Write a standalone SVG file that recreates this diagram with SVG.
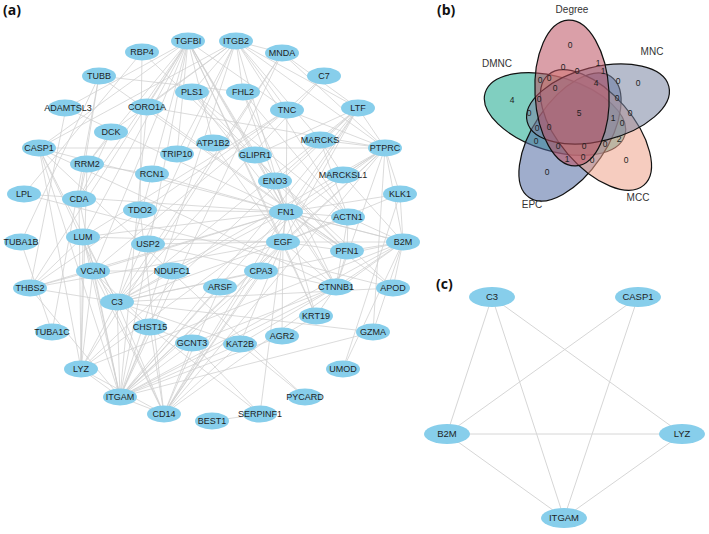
<svg xmlns="http://www.w3.org/2000/svg" width="709" height="534" viewBox="0 0 709 534">
<style>
.bg{fill:#ffffff}
.edges line{stroke:#cfcfcf;stroke-width:0.75;fill:none}
.edgesc line{stroke:#d6d6d6;stroke-width:1;fill:none}
.node ellipse{fill:#87ceeb}
.node text{font-family:"Liberation Sans",Arial,sans-serif;font-size:9px;fill:#1e1e1e;text-anchor:middle}
.nodec ellipse{fill:#87ceeb}
.nodec text{font-family:"Liberation Sans",Arial,sans-serif;font-size:9.5px;fill:#1e1e1e;text-anchor:middle}
.plabel{font-family:"Open Sans","Liberation Sans",sans-serif;font-size:14px;font-weight:bold;fill:#111}
.vset{stroke:#111;stroke-width:1.2;fill-opacity:0.55}
.vlab{font-family:"Liberation Sans",Arial,sans-serif;font-size:10px;fill:#333;text-anchor:middle}
.vnum{font-family:"Liberation Sans",Arial,sans-serif;font-size:8.5px;fill:#222;text-anchor:middle}
</style>
<rect class="bg" x="0" y="0" width="709" height="534"/>
<text class="plabel" x="3" y="15">(a)</text>
<text class="plabel" x="437" y="15">(b)</text>
<text class="plabel" x="436" y="289">(c)</text>

<g id="edges" class="edges">
<line x1="120" y1="397" x2="81" y2="369"/><line x1="120" y1="397" x2="164" y2="414"/><line x1="120" y1="397" x2="117" y2="302"/><line x1="120" y1="397" x2="93" y2="271"/><line x1="120" y1="397" x2="83" y2="237"/><line x1="120" y1="397" x2="79" y2="199"/><line x1="120" y1="397" x2="39" y2="148"/><line x1="120" y1="397" x2="30" y2="288"/><line x1="120" y1="397" x2="150" y2="327"/><line x1="120" y1="397" x2="192" y2="343"/><line x1="120" y1="397" x2="240" y2="344"/><line x1="120" y1="397" x2="220" y2="287"/><line x1="120" y1="397" x2="261" y2="271"/><line x1="120" y1="397" x2="283" y2="242"/><line x1="120" y1="397" x2="286" y2="212"/><line x1="120" y1="397" x2="403" y2="242"/><line x1="120" y1="397" x2="385" y2="148"/><line x1="120" y1="397" x2="236" y2="41"/><line x1="120" y1="397" x2="188" y2="41"/><line x1="120" y1="397" x2="336" y2="287"/><line x1="120" y1="397" x2="373" y2="332"/><line x1="120" y1="397" x2="282" y2="53"/><line x1="120" y1="397" x2="358" y2="108"/><line x1="120" y1="397" x2="147" y2="107"/><line x1="120" y1="397" x2="172" y2="271"/><line x1="120" y1="397" x2="282" y2="336"/>
<line x1="164" y1="414" x2="117" y2="302"/><line x1="164" y1="414" x2="150" y2="327"/><line x1="164" y1="414" x2="192" y2="343"/><line x1="164" y1="414" x2="240" y2="344"/><line x1="164" y1="414" x2="220" y2="287"/><line x1="164" y1="414" x2="261" y2="271"/><line x1="164" y1="414" x2="283" y2="242"/><line x1="164" y1="414" x2="286" y2="212"/><line x1="164" y1="414" x2="403" y2="242"/><line x1="164" y1="414" x2="385" y2="148"/><line x1="164" y1="414" x2="81" y2="369"/><line x1="164" y1="414" x2="140" y2="210"/><line x1="164" y1="414" x2="93" y2="271"/><line x1="164" y1="414" x2="358" y2="108"/><line x1="164" y1="414" x2="39" y2="148"/>
<line x1="117" y1="302" x2="81" y2="369"/><line x1="117" y1="302" x2="93" y2="271"/><line x1="117" y1="302" x2="83" y2="237"/><line x1="117" y1="302" x2="30" y2="288"/><line x1="117" y1="302" x2="286" y2="212"/><line x1="117" y1="302" x2="283" y2="242"/><line x1="117" y1="302" x2="403" y2="242"/><line x1="117" y1="302" x2="39" y2="148"/><line x1="117" y1="302" x2="261" y2="271"/><line x1="117" y1="302" x2="240" y2="344"/><line x1="117" y1="302" x2="385" y2="148"/><line x1="117" y1="302" x2="236" y2="41"/><line x1="117" y1="302" x2="188" y2="41"/><line x1="117" y1="302" x2="282" y2="53"/><line x1="117" y1="302" x2="393" y2="288"/><line x1="117" y1="302" x2="324" y2="76"/><line x1="117" y1="302" x2="373" y2="332"/><line x1="117" y1="302" x2="358" y2="108"/><line x1="117" y1="302" x2="260" y2="414"/>
<line x1="81" y1="369" x2="83" y2="237"/><line x1="81" y1="369" x2="79" y2="199"/><line x1="81" y1="369" x2="93" y2="271"/><line x1="81" y1="369" x2="87" y2="164"/><line x1="81" y1="369" x2="403" y2="242"/><line x1="81" y1="369" x2="385" y2="148"/><line x1="81" y1="369" x2="358" y2="108"/><line x1="81" y1="369" x2="39" y2="148"/><line x1="81" y1="369" x2="282" y2="53"/>
<line x1="403" y1="242" x2="385" y2="148"/><line x1="403" y1="242" x2="39" y2="148"/><line x1="403" y1="242" x2="283" y2="242"/><line x1="403" y1="242" x2="286" y2="212"/><line x1="403" y1="242" x2="393" y2="288"/><line x1="403" y1="242" x2="336" y2="287"/><line x1="403" y1="242" x2="373" y2="332"/><line x1="403" y1="242" x2="343" y2="369"/><line x1="403" y1="242" x2="400" y2="194"/><line x1="403" y1="242" x2="347" y2="251"/><line x1="403" y1="242" x2="348" y2="217"/><line x1="403" y1="242" x2="343" y2="175"/>
<line x1="385" y1="148" x2="236" y2="41"/><line x1="385" y1="148" x2="282" y2="53"/><line x1="385" y1="148" x2="358" y2="108"/><line x1="385" y1="148" x2="343" y2="175"/><line x1="385" y1="148" x2="400" y2="194"/><line x1="385" y1="148" x2="373" y2="332"/><line x1="385" y1="148" x2="336" y2="287"/><line x1="385" y1="148" x2="283" y2="242"/><line x1="385" y1="148" x2="286" y2="212"/><line x1="385" y1="148" x2="147" y2="107"/><line x1="385" y1="148" x2="320" y2="140"/><line x1="385" y1="148" x2="287" y2="110"/><line x1="385" y1="148" x2="39" y2="148"/>
<line x1="286" y1="212" x2="188" y2="41"/><line x1="286" y1="212" x2="236" y2="41"/><line x1="286" y1="212" x2="287" y2="110"/><line x1="286" y1="212" x2="30" y2="288"/><line x1="286" y1="212" x2="93" y2="271"/><line x1="286" y1="212" x2="83" y2="237"/><line x1="286" y1="212" x2="283" y2="242"/><line x1="286" y1="212" x2="336" y2="287"/><line x1="286" y1="212" x2="348" y2="217"/><line x1="286" y1="212" x2="347" y2="251"/><line x1="286" y1="212" x2="24" y2="194"/><line x1="286" y1="212" x2="393" y2="288"/><line x1="286" y1="212" x2="192" y2="92"/><line x1="286" y1="212" x2="243" y2="92"/><line x1="286" y1="212" x2="400" y2="194"/><line x1="286" y1="212" x2="358" y2="108"/><line x1="286" y1="212" x2="260" y2="414"/><line x1="286" y1="212" x2="316" y2="316"/><line x1="286" y1="212" x2="140" y2="210"/><line x1="286" y1="212" x2="152" y2="174"/><line x1="286" y1="212" x2="275" y2="181"/><line x1="286" y1="212" x2="255" y2="155"/>
<line x1="283" y1="242" x2="336" y2="287"/><line x1="283" y1="242" x2="316" y2="316"/><line x1="283" y1="242" x2="240" y2="344"/><line x1="283" y1="242" x2="188" y2="41"/><line x1="283" y1="242" x2="30" y2="288"/><line x1="283" y1="242" x2="358" y2="108"/><line x1="283" y1="242" x2="282" y2="336"/><line x1="283" y1="242" x2="400" y2="194"/><line x1="283" y1="242" x2="348" y2="217"/><line x1="283" y1="242" x2="347" y2="251"/><line x1="283" y1="242" x2="83" y2="237"/><line x1="283" y1="242" x2="213" y2="143"/><line x1="283" y1="242" x2="148" y2="244"/>
<line x1="236" y1="41" x2="282" y2="53"/><line x1="236" y1="41" x2="147" y2="107"/><line x1="236" y1="41" x2="192" y2="92"/><line x1="236" y1="41" x2="243" y2="92"/><line x1="236" y1="41" x2="348" y2="217"/><line x1="236" y1="41" x2="287" y2="110"/><line x1="236" y1="41" x2="358" y2="108"/><line x1="236" y1="41" x2="177" y2="154"/><line x1="236" y1="41" x2="111" y2="132"/><line x1="236" y1="41" x2="39" y2="148"/><line x1="236" y1="41" x2="320" y2="140"/>
<line x1="188" y1="41" x2="30" y2="288"/><line x1="188" y1="41" x2="93" y2="271"/><line x1="188" y1="41" x2="83" y2="237"/><line x1="188" y1="41" x2="287" y2="110"/><line x1="188" y1="41" x2="336" y2="287"/><line x1="188" y1="41" x2="316" y2="316"/><line x1="188" y1="41" x2="147" y2="107"/><line x1="188" y1="41" x2="39" y2="148"/><line x1="188" y1="41" x2="177" y2="154"/><line x1="188" y1="41" x2="213" y2="143"/><line x1="188" y1="41" x2="255" y2="155"/><line x1="188" y1="41" x2="79" y2="199"/><line x1="188" y1="41" x2="87" y2="164"/>
<line x1="336" y1="287" x2="316" y2="316"/><line x1="336" y1="287" x2="348" y2="217"/><line x1="336" y1="287" x2="347" y2="251"/><line x1="336" y1="287" x2="240" y2="344"/><line x1="336" y1="287" x2="243" y2="92"/><line x1="336" y1="287" x2="39" y2="148"/><line x1="336" y1="287" x2="148" y2="244"/><line x1="336" y1="287" x2="192" y2="343"/>
<line x1="99" y1="76" x2="21" y2="242"/><line x1="99" y1="76" x2="52" y2="332"/><line x1="21" y1="242" x2="52" y2="332"/><line x1="99" y1="76" x2="347" y2="251"/><line x1="99" y1="76" x2="243" y2="92"/><line x1="99" y1="76" x2="79" y2="199"/>
<line x1="348" y1="217" x2="347" y2="251"/><line x1="348" y1="217" x2="243" y2="92"/><line x1="348" y1="217" x2="192" y2="92"/><line x1="348" y1="217" x2="320" y2="140"/>
<line x1="347" y1="251" x2="275" y2="181"/><line x1="347" y1="251" x2="192" y2="92"/><line x1="347" y1="251" x2="147" y2="107"/>
<line x1="93" y1="271" x2="83" y2="237"/><line x1="93" y1="271" x2="30" y2="288"/><line x1="93" y1="271" x2="287" y2="110"/><line x1="93" y1="271" x2="150" y2="327"/><line x1="93" y1="271" x2="172" y2="271"/>
<line x1="83" y1="237" x2="30" y2="288"/><line x1="83" y1="237" x2="287" y2="110"/><line x1="30" y1="288" x2="287" y2="110"/>
<line x1="192" y1="343" x2="150" y2="327"/><line x1="240" y1="344" x2="305" y2="397"/><line x1="282" y1="336" x2="316" y2="316"/><line x1="343" y1="369" x2="400" y2="194"/>
<line x1="393" y1="288" x2="24" y2="194"/><line x1="393" y1="288" x2="142" y2="52"/><line x1="142" y1="52" x2="24" y2="194"/><line x1="142" y1="52" x2="140" y2="210"/>
<line x1="111" y1="132" x2="87" y2="164"/><line x1="111" y1="132" x2="79" y2="199"/><line x1="79" y1="199" x2="87" y2="164"/>
<line x1="320" y1="140" x2="343" y2="175"/><line x1="39" y1="148" x2="305" y2="397"/><line x1="324" y1="76" x2="287" y2="110"/>
<line x1="212" y1="421" x2="260" y2="414"/><line x1="260" y1="414" x2="192" y2="343"/>
<line x1="66" y1="108" x2="30" y2="288"/><line x1="66" y1="108" x2="286" y2="212"/><line x1="66" y1="108" x2="188" y2="41"/>
<line x1="152" y1="174" x2="87" y2="164"/><line x1="282" y1="53" x2="358" y2="108"/><line x1="255" y1="155" x2="358" y2="108"/><line x1="275" y1="181" x2="358" y2="108"/>
</g>

<g id="n-TGFBI" class="node"><ellipse cx="188" cy="41" rx="17" ry="8.5"/><text x="188" y="44.2">TGFBI</text></g>
<g id="n-ITGB2" class="node"><ellipse cx="236" cy="41" rx="17" ry="8.5"/><text x="236" y="44.2">ITGB2</text></g>
<g id="n-MNDA" class="node"><ellipse cx="282" cy="53" rx="17" ry="8.5"/><text x="282" y="56.2">MNDA</text></g>
<g id="n-C7" class="node"><ellipse cx="324" cy="76" rx="17" ry="8.5"/><text x="324" y="79.2">C7</text></g>
<g id="n-RBP4" class="node"><ellipse cx="142" cy="52" rx="17" ry="8.5"/><text x="142" y="55.2">RBP4</text></g>
<g id="n-TUBB" class="node"><ellipse cx="99" cy="76" rx="17" ry="8.5"/><text x="99" y="79.2">TUBB</text></g>
<g id="n-PLS1" class="node"><ellipse cx="192" cy="92" rx="17" ry="8.5"/><text x="192" y="95.2">PLS1</text></g>
<g id="n-FHL2" class="node"><ellipse cx="243" cy="92" rx="17" ry="8.5"/><text x="243" y="95.2">FHL2</text></g>
<g id="n-TNC" class="node"><ellipse cx="287" cy="110" rx="17" ry="8.5"/><text x="287" y="113.2">TNC</text></g>
<g id="n-LTF" class="node"><ellipse cx="358" cy="108" rx="17" ry="8.5"/><text x="358" y="111.2">LTF</text></g>
<g id="n-ADAMTSL3" class="node"><ellipse cx="65" cy="108" rx="17" ry="8.5"/><text x="68" y="111.2">ADAMTSL3</text></g>
<g id="n-CORO1A" class="node"><ellipse cx="147" cy="107" rx="17" ry="8.5"/><text x="147" y="110.2">CORO1A</text></g>
<g id="n-DCK" class="node"><ellipse cx="111" cy="132" rx="17" ry="8.5"/><text x="111" y="135.2">DCK</text></g>
<g id="n-MARCKS" class="node"><ellipse cx="320" cy="140" rx="17" ry="8.5"/><text x="320" y="143.2">MARCKS</text></g>
<g id="n-CASP1" class="node"><ellipse cx="39" cy="148" rx="17" ry="8.5"/><text x="39" y="151.2">CASP1</text></g>
<g id="n-ATP1B2" class="node"><ellipse cx="213" cy="143" rx="17" ry="8.5"/><text x="213" y="146.2">ATP1B2</text></g>
<g id="n-TRIP10" class="node"><ellipse cx="177" cy="154" rx="17" ry="8.5"/><text x="177" y="157.2">TRIP10</text></g>
<g id="n-GLIPR1" class="node"><ellipse cx="255" cy="155" rx="17" ry="8.5"/><text x="255" y="158.2">GLIPR1</text></g>
<g id="n-PTPRC" class="node"><ellipse cx="385" cy="148" rx="17" ry="8.5"/><text x="385" y="151.2">PTPRC</text></g>
<g id="n-RRM2" class="node"><ellipse cx="87" cy="164" rx="17" ry="8.5"/><text x="87" y="167.2">RRM2</text></g>
<g id="n-RCN1" class="node"><ellipse cx="152" cy="174" rx="17" ry="8.5"/><text x="152" y="177.2">RCN1</text></g>
<g id="n-ENO3" class="node"><ellipse cx="275" cy="181" rx="17" ry="8.5"/><text x="275" y="184.2">ENO3</text></g>
<g id="n-MARCKSL1" class="node"><ellipse cx="343" cy="175" rx="17" ry="8.5"/><text x="343" y="178.2">MARCKSL1</text></g>
<g id="n-KLK1" class="node"><ellipse cx="400" cy="194" rx="17" ry="8.5"/><text x="400" y="197.2">KLK1</text></g>
<g id="n-LPL" class="node"><ellipse cx="24" cy="194" rx="17" ry="8.5"/><text x="24" y="197.2">LPL</text></g>
<g id="n-CDA" class="node"><ellipse cx="79" cy="199" rx="17" ry="8.5"/><text x="79" y="202.2">CDA</text></g>
<g id="n-TDO2" class="node"><ellipse cx="140" cy="210" rx="17" ry="8.5"/><text x="140" y="213.2">TDO2</text></g>
<g id="n-FN1" class="node"><ellipse cx="286" cy="212" rx="17" ry="8.5"/><text x="286" y="215.2">FN1</text></g>
<g id="n-ACTN1" class="node"><ellipse cx="348" cy="217" rx="17" ry="8.5"/><text x="348" y="220.2">ACTN1</text></g>
<g id="n-LUM" class="node"><ellipse cx="83" cy="237" rx="17" ry="8.5"/><text x="83" y="240.2">LUM</text></g>
<g id="n-TUBA1B" class="node"><ellipse cx="21" cy="242" rx="17" ry="8.5"/><text x="21" y="245.2">TUBA1B</text></g>
<g id="n-USP2" class="node"><ellipse cx="148" cy="244" rx="17" ry="8.5"/><text x="148" y="247.2">USP2</text></g>
<g id="n-EGF" class="node"><ellipse cx="283" cy="242" rx="17" ry="8.5"/><text x="283" y="245.2">EGF</text></g>
<g id="n-PFN1" class="node"><ellipse cx="347" cy="251" rx="17" ry="8.5"/><text x="347" y="254.2">PFN1</text></g>
<g id="n-B2M" class="node"><ellipse cx="403" cy="242" rx="17" ry="8.5"/><text x="403" y="245.2">B2M</text></g>
<g id="n-VCAN" class="node"><ellipse cx="93" cy="271" rx="17" ry="8.5"/><text x="93" y="274.2">VCAN</text></g>
<g id="n-NDUFC1" class="node"><ellipse cx="172" cy="271" rx="17" ry="8.5"/><text x="172" y="274.2">NDUFC1</text></g>
<g id="n-CPA3" class="node"><ellipse cx="261" cy="271" rx="17" ry="8.5"/><text x="261" y="274.2">CPA3</text></g>
<g id="n-THBS2" class="node"><ellipse cx="30" cy="288" rx="17" ry="8.5"/><text x="30" y="291.2">THBS2</text></g>
<g id="n-ARSF" class="node"><ellipse cx="220" cy="287" rx="17" ry="8.5"/><text x="220" y="290.2">ARSF</text></g>
<g id="n-C3" class="node"><ellipse cx="117" cy="302" rx="17" ry="8.5"/><text x="117" y="305.2">C3</text></g>
<g id="n-CTNNB1" class="node"><ellipse cx="336" cy="287" rx="17" ry="8.5"/><text x="336" y="290.2">CTNNB1</text></g>
<g id="n-APOD" class="node"><ellipse cx="393" cy="288" rx="17" ry="8.5"/><text x="393" y="291.2">APOD</text></g>
<g id="n-CHST15" class="node"><ellipse cx="150" cy="327" rx="17" ry="8.5"/><text x="150" y="330.2">CHST15</text></g>
<g id="n-TUBA1C" class="node"><ellipse cx="52" cy="332" rx="17" ry="8.5"/><text x="52" y="335.2">TUBA1C</text></g>
<g id="n-KRT19" class="node"><ellipse cx="316" cy="316" rx="17" ry="8.5"/><text x="316" y="319.2">KRT19</text></g>
<g id="n-GCNT3" class="node"><ellipse cx="192" cy="343" rx="17" ry="8.5"/><text x="192" y="346.2">GCNT3</text></g>
<g id="n-KAT2B" class="node"><ellipse cx="240" cy="344" rx="17" ry="8.5"/><text x="240" y="347.2">KAT2B</text></g>
<g id="n-AGR2" class="node"><ellipse cx="282" cy="336" rx="17" ry="8.5"/><text x="282" y="339.2">AGR2</text></g>
<g id="n-GZMA" class="node"><ellipse cx="373" cy="332" rx="17" ry="8.5"/><text x="373" y="335.2">GZMA</text></g>
<g id="n-LYZ" class="node"><ellipse cx="81" cy="369" rx="17" ry="8.5"/><text x="81" y="372.2">LYZ</text></g>
<g id="n-UMOD" class="node"><ellipse cx="343" cy="369" rx="17" ry="8.5"/><text x="343" y="372.2">UMOD</text></g>
<g id="n-ITGAM" class="node"><ellipse cx="120" cy="397" rx="17" ry="8.5"/><text x="120" y="400.2">ITGAM</text></g>
<g id="n-PYCARD" class="node"><ellipse cx="305" cy="397" rx="17" ry="8.5"/><text x="305" y="400.2">PYCARD</text></g>
<g id="n-CD14" class="node"><ellipse cx="164" cy="414" rx="17" ry="8.5"/><text x="164" y="417.2">CD14</text></g>
<g id="n-SERPINF1" class="node"><ellipse cx="260" cy="414" rx="17" ry="8.5"/><text x="260" y="417.2">SERPINF1</text></g>
<g id="n-BEST1" class="node"><ellipse cx="212" cy="421" rx="17" ry="8.5"/><text x="212" y="424.2">BEST1</text></g>

<g id="venn">
<ellipse id="v-DMNC" class="vset" fill="#18a88c" cx="555" cy="114" rx="73" ry="37" transform="rotate(17 555 114)"/>
<ellipse id="v-EPC" class="vset" fill="#5069a3" cx="570" cy="137" rx="73" ry="37" transform="rotate(-56 570 137)"/>
<ellipse id="v-MCC" class="vset" fill="#eea38a" cx="596" cy="130" rx="73" ry="37" transform="rotate(49 596 130)"/>
<ellipse id="v-MNC" class="vset" fill="#7a85a3" cx="598" cy="104" rx="73" ry="37" transform="rotate(-14 598 104)"/>
<ellipse id="v-Degree" class="vset" fill="#bc5061" cx="572" cy="93" rx="37" ry="73" transform="rotate(-3 572 93)"/>
<text class="vlab" x="572" y="13">Degree</text>
<text class="vlab" x="652" y="55">MNC</text>
<text class="vlab" x="497" y="67">DMNC</text>
<text class="vlab" x="532" y="208">EPC</text>
<text class="vlab" x="638" y="201">MCC</text>
<g class="vnum">
<text x="570" y="48">0</text><text x="638" y="86">0</text><text x="512" y="103">4</text><text x="547" y="175">0</text><text x="626" y="163">0</text><text x="579" y="116">5</text>
<text x="598" y="66">1</text><text x="603" y="74">1</text><text x="563" y="70">0</text><text x="577" y="74">0</text><text x="540" y="83">0</text><text x="549" y="81">0</text>
<text x="596" y="86">4</text><text x="618" y="84">0</text><text x="555" y="91">0</text><text x="539" y="102">0</text><text x="617" y="101">0</text><text x="529" y="116">0</text>
<text x="630" y="116">0</text><text x="613" y="121">1</text><text x="622" y="126">0</text><text x="537" y="131">0</text><text x="549" y="130">0</text><text x="536" y="144">0</text>
<text x="619" y="142">2</text><text x="558" y="149">0</text><text x="584" y="149">0</text><text x="605" y="147">0</text><text x="567" y="162">1</text><text x="583" y="160">0</text><text x="592" y="163">0</text>
</g>
</g>

<g id="edges-c" class="edgesc">
<line x1="492" y1="297" x2="447" y2="434"/>
<line x1="492" y1="297" x2="564" y2="518"/>
<line x1="492" y1="297" x2="682" y2="434"/>
<line x1="638" y1="297" x2="447" y2="434"/>
<line x1="638" y1="297" x2="564" y2="518"/>
<line x1="447" y1="434" x2="682" y2="434"/>
<line x1="447" y1="434" x2="564" y2="518"/>
<line x1="682" y1="434" x2="564" y2="518"/>
</g>
<g id="c-C3" class="nodec"><ellipse cx="492" cy="297" rx="23" ry="10"/><text x="492" y="300.4">C3</text></g>
<g id="c-CASP1" class="nodec"><ellipse cx="638" cy="297" rx="23" ry="10"/><text x="638" y="300.4">CASP1</text></g>
<g id="c-B2M" class="nodec"><ellipse cx="447" cy="434" rx="23" ry="10"/><text x="447" y="437.4">B2M</text></g>
<g id="c-LYZ" class="nodec"><ellipse cx="682" cy="434" rx="23" ry="10"/><text x="682" y="437.4">LYZ</text></g>
<g id="c-ITGAM" class="nodec"><ellipse cx="564" cy="518" rx="23" ry="10"/><text x="564" y="521.4">ITGAM</text></g>
</svg>
